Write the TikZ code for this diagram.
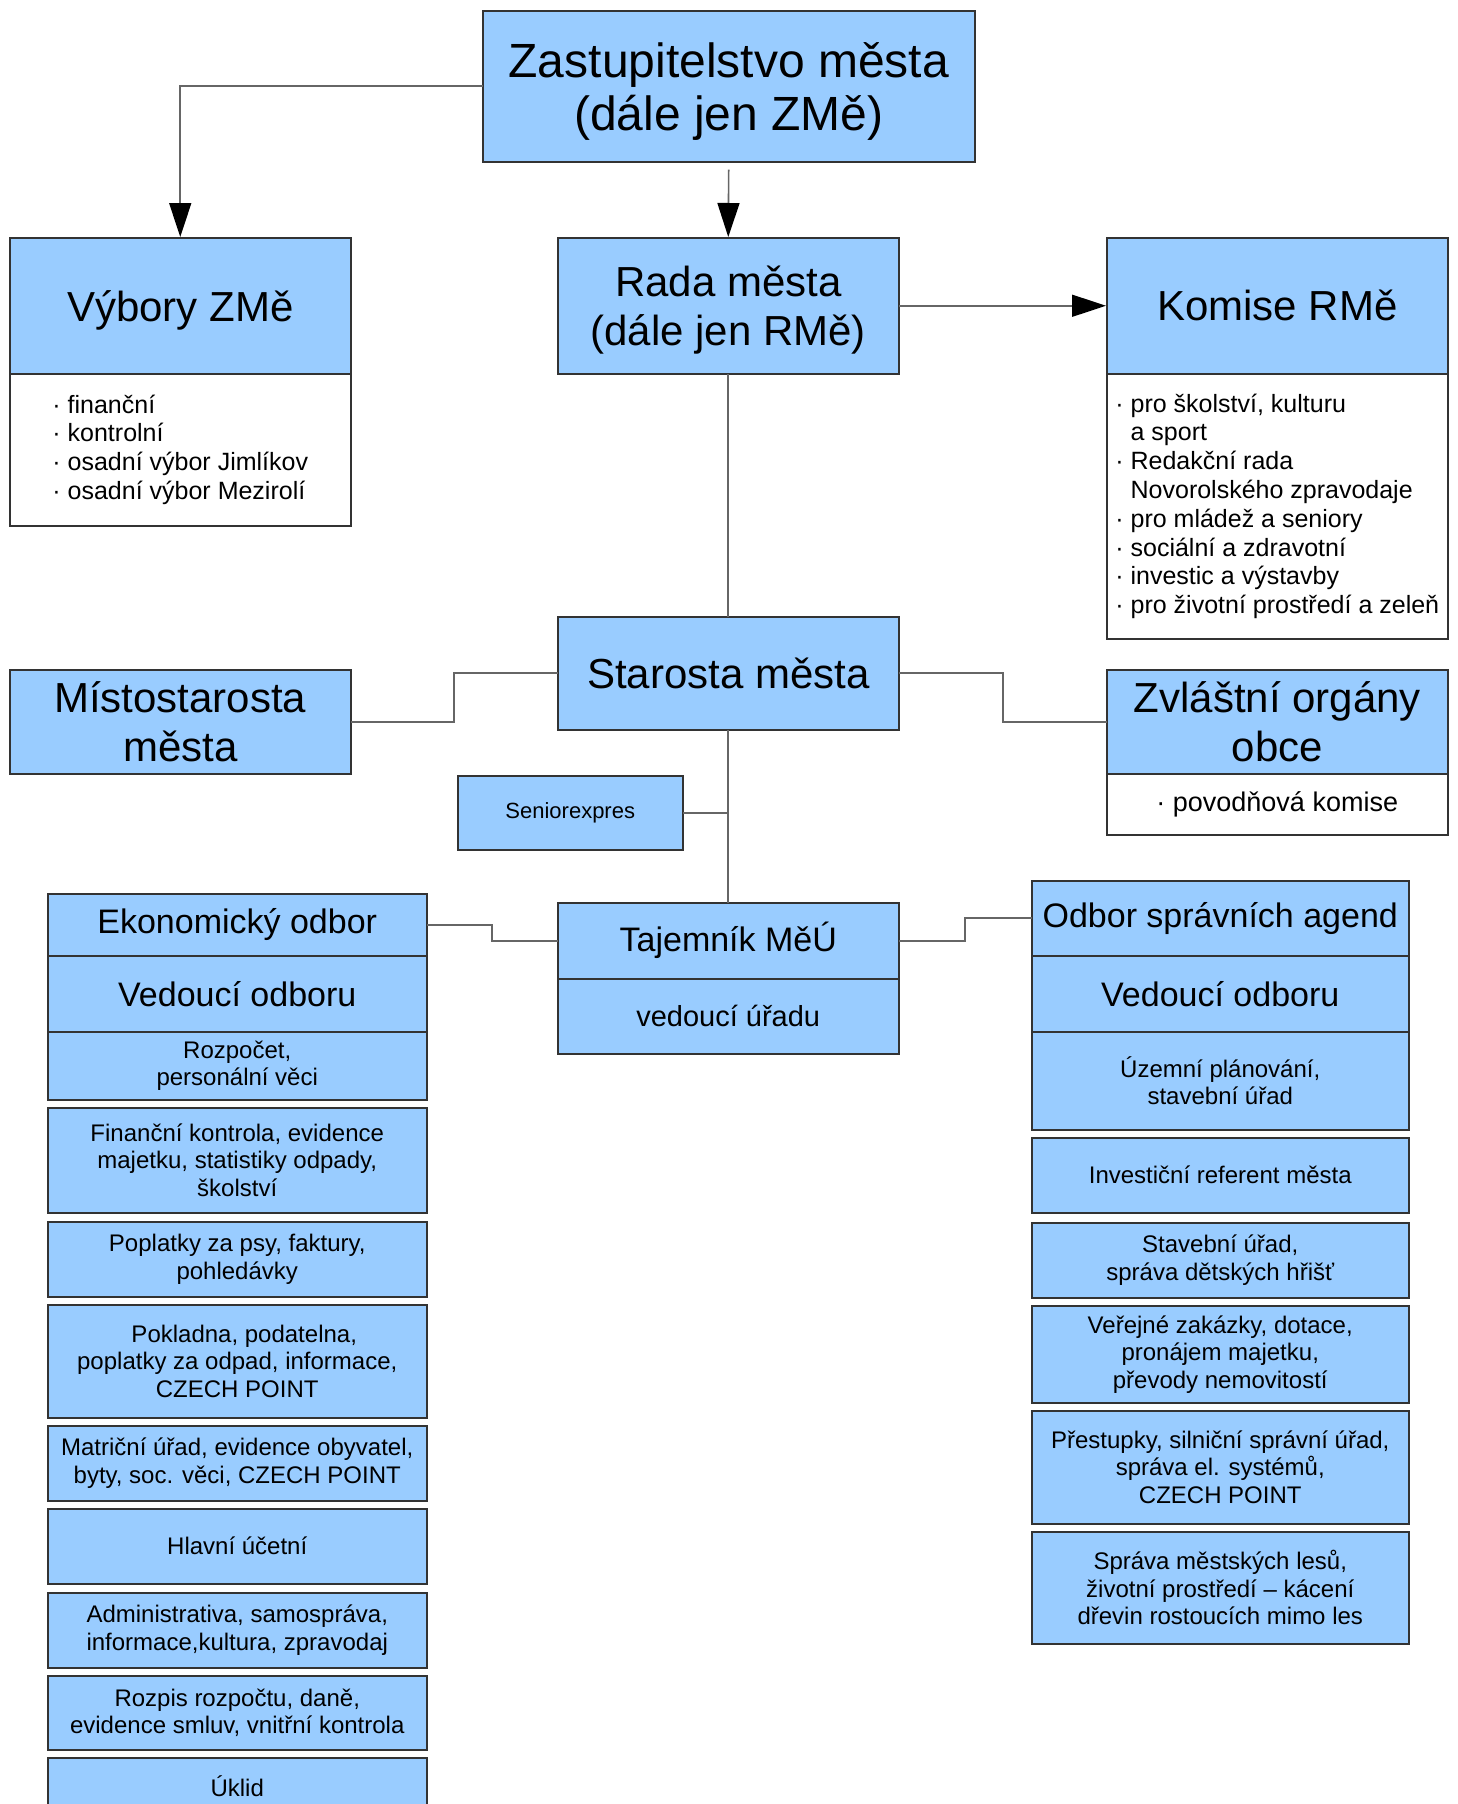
\documentclass[tikz,border=0pt]{standalone}
\usepackage{fontspec}
\setmainfont{Liberation Sans}
\usepackage{tikz}
\usetikzlibrary{arrows.meta}
\usetikzlibrary{calc}

\begin{document}
\begin{tikzpicture}[x=1pt,y=-1pt,line cap=rect,
		orgbox/.style={draw=custcol_33_33_33, fill=custcol_99_cc_ff, line width=1.5pt, anchor=north west, inner sep=0pt, align=center},
		listbox/.style={orgbox, fill=custcol_ff_ff_ff, align=left},
		link/.style={draw=custcol_66_66_66, line width=1.6pt},
		arrowlink/.style={link, -{Triangle[length=34pt,width=22pt,color=custcol_0_0_0]}}]
					\def\fsTitle{\fontsize{48pt}{53pt}\selectfont}
					\def\fsHead{\fontsize{42pt}{48.5pt}\selectfont}
					\def\fsSub{\fontsize{34pt}{40pt}\selectfont}
					\def\fsUrad{\fontsize{29pt}{34pt}\selectfont}
					\def\fsPov{\fontsize{27pt}{31pt}\selectfont}
					\def\fsList{\fontsize{25pt}{28.8pt}\selectfont}
					\def\fsItem{\fontsize{24pt}{27.6pt}\selectfont}
					\def\fsSmall{\fontsize{22pt}{26pt}\selectfont}
					\definecolor{custcol_99_cc_ff}{RGB}{153, 204, 255}
					\definecolor{custcol_ff_ff_ff}{RGB}{255, 255, 255}
					\definecolor{custcol_33_33_33}{RGB}{51, 51, 51}
					\definecolor{custcol_66_66_66}{RGB}{102, 102, 102}
					\definecolor{custcol_0_0_0}{RGB}{0, 0, 0}
					\useasboundingbox (0,0) rectangle (1457,1804);
					% top levels
					\node[orgbox, minimum width=492pt, minimum height=151pt, text depth=0pt, font=\fsTitle] (zast) at (482,10) {Zastupitelstvo města\\(dále jen ZMě)};
					\node[orgbox, minimum width=341pt, minimum height=136pt, text depth=0pt, font=\fsHead] (vybory) at (9,237) {Výbory ZMě};
					\node[listbox, minimum width=341pt, minimum height=152pt, font=\fsList] (vyboryList) at (9,373) {· finanční\\· kontrolní\\· osadní výbor Jimlíkov\\· osadní výbor Mezirolí};
					\node[orgbox, minimum width=341pt, minimum height=136pt, text depth=0pt, font=\fsHead] (rada) at (557,237) {Rada města\\(dále jen RMě)};
					\node[orgbox, minimum width=341pt, minimum height=136pt, font=\fsHead] (komise) at (1106,237) {Komise RMě};
					\node[listbox, minimum width=341pt, minimum height=265pt, font=\fsList] (komiseList) at (1106,373) {· pro školství, kulturu\\\phantom{· }a sport\\· Redakční rada\\\phantom{· }Novorolského zpravodaje\\· pro mládež a seniory\\· sociální a zdravotní\\· investic a výstavby\\· pro životní prostředí a zeleň};
					\node[orgbox, minimum width=341pt, minimum height=113pt, font=\fsHead] (starosta) at (557,616) {Starosta města};
					\node[orgbox, minimum width=341pt, minimum height=104pt, font=\fsHead] (misto) at (9,669) {Místostarosta\\města};
					\node[orgbox, minimum width=341pt, minimum height=104pt, font=\fsHead] (zvlast) at (1106,669) {Zvláštní orgány\\obce};
					\node[listbox, align=center, minimum width=341pt, minimum height=61pt, font=\fsPov] (zvlastList) at (1106,773) {· povodňová komise};
					\node[orgbox, minimum width=225pt, minimum height=74pt, font=\fsSmall] (senior) at (457,775) {Seniorexpres};
					\node[orgbox, minimum width=341pt, minimum height=76pt, font=\fsSub] (tajemnik) at (557,902) {Tajemník MěÚ};
					\node[orgbox, minimum width=341pt, minimum height=75pt, font=\fsUrad] (tajemnikSub) at (557,978) {vedoucí úřadu};
					% ekonomicky odbor
					\node[orgbox, minimum width=379pt, minimum height=62pt, font=\fsSub] (ekonom) at (47,893) {Ekonomický odbor};
					\node[orgbox, minimum width=379pt, minimum height=76pt, font=\fsSub] (ekonomVed) at (47,955) {Vedoucí odboru};
					\node[orgbox, minimum width=379pt, minimum height=68pt, font=\fsItem] (ekonomA) at (47,1031) {Rozpočet,\\personální věci};
					\node[orgbox, minimum width=379pt, minimum height=105pt, font=\fsItem] (ekonomB) at (47,1107) {Finanční kontrola, evidence\\majetku, statistiky odpady,\\školství};
					\node[orgbox, minimum width=379pt, minimum height=75pt, font=\fsItem] (ekonomC) at (47,1221) {Poplatky za psy, faktury,\\pohledávky};
					\node[orgbox, minimum width=379pt, minimum height=113pt, font=\fsItem] (ekonomD) at (47,1304) {\hspace*{14pt}Pokladna, podatelna,\\poplatky za odpad, informace,\\CZECH POINT};
					\node[orgbox, minimum width=379pt, minimum height=75pt, font=\fsItem] (ekonomE) at (47,1425) {Matriční úřad, evidence obyvatel,\\byty, soc. věci, CZECH POINT};
					\node[orgbox, minimum width=379pt, minimum height=75pt, font=\fsItem] (ekonomF) at (47,1508) {Hlavní účetní};
					\node[orgbox, minimum width=379pt, minimum height=75pt, font=\fsItem] (ekonomG) at (47,1592) {Administrativa, samospráva,\\informace,kultura, zpravodaj};
					\node[orgbox, minimum width=379pt, minimum height=74pt, font=\fsItem] (ekonomH) at (47,1675) {Rozpis rozpočtu, daně,\\evidence smluv, vnitřní kontrola};
					\node[orgbox, minimum width=379pt, minimum height=56pt, font=\fsItem] (ekonomI) at (47,1757) {Úklid};
					% odbor spravnich agend
					\node[orgbox, minimum width=377pt, minimum height=75pt, font=\fsSub] (odbor) at (1031,880) {Odbor správních agend};
					\node[orgbox, minimum width=377pt, minimum height=76pt, font=\fsSub] (odborVed) at (1031,955) {Vedoucí odboru};
					\node[orgbox, minimum width=377pt, minimum height=98pt, font=\fsItem] (odborA) at (1031,1031) {Územní plánování,\\stavební úřad};
					\node[orgbox, minimum width=377pt, minimum height=75pt, font=\fsItem] (odborB) at (1031,1137) {Investiční referent města};
					\node[orgbox, minimum width=377pt, minimum height=75pt, font=\fsItem] (odborC) at (1031,1222) {Stavební úřad,\\správa dětských hřišť};
					\node[orgbox, minimum width=377pt, minimum height=97pt, font=\fsItem] (odborD) at (1031,1305) {Veřejné zakázky, dotace,\\pronájem majetku,\\převody nemovitostí};
					\node[orgbox, minimum width=377pt, minimum height=113pt, font=\fsItem] (odborE) at (1031,1410) {Přestupky, silniční správní úřad,\\správa el. systémů,\\CZECH POINT};
					\node[orgbox, minimum width=377pt, minimum height=112pt, font=\fsItem] (odborF) at (1031,1531) {Správa městských lesů,\\životní prostředí – kácení\\dřevin rostoucích mimo les};
					% connectors
					\draw[arrowlink] (zast.west) -| (vybory.north);
					\draw[arrowlink, shorten <=8pt] (zast.south) -- (rada.north);
					\draw[arrowlink] (rada.east) -- (komise.west);
					\draw[link] (rada.south) -- (starosta.north);
					\draw[link] (starosta.west) -| ($(starosta.west)!.5!(misto.east)$) |- (misto.east);
					\draw[link] (starosta.east) -| ($(starosta.east)!.5!(zvlast.west)$) |- (zvlast.west);
					\draw[link] (starosta.south) -- (tajemnik.north);
					\draw[link] (senior.east) -- (senior.east -| starosta.south);
					\draw[link] (ekonom.east) -| ($(ekonom.east)!.5!(tajemnik.west)$) |- (tajemnik.west);
					\draw[link] (tajemnik.east) -| ($(tajemnik.east)!.5!(odbor.west)$) |- (odbor.west);
\end{tikzpicture}
\end{document}
